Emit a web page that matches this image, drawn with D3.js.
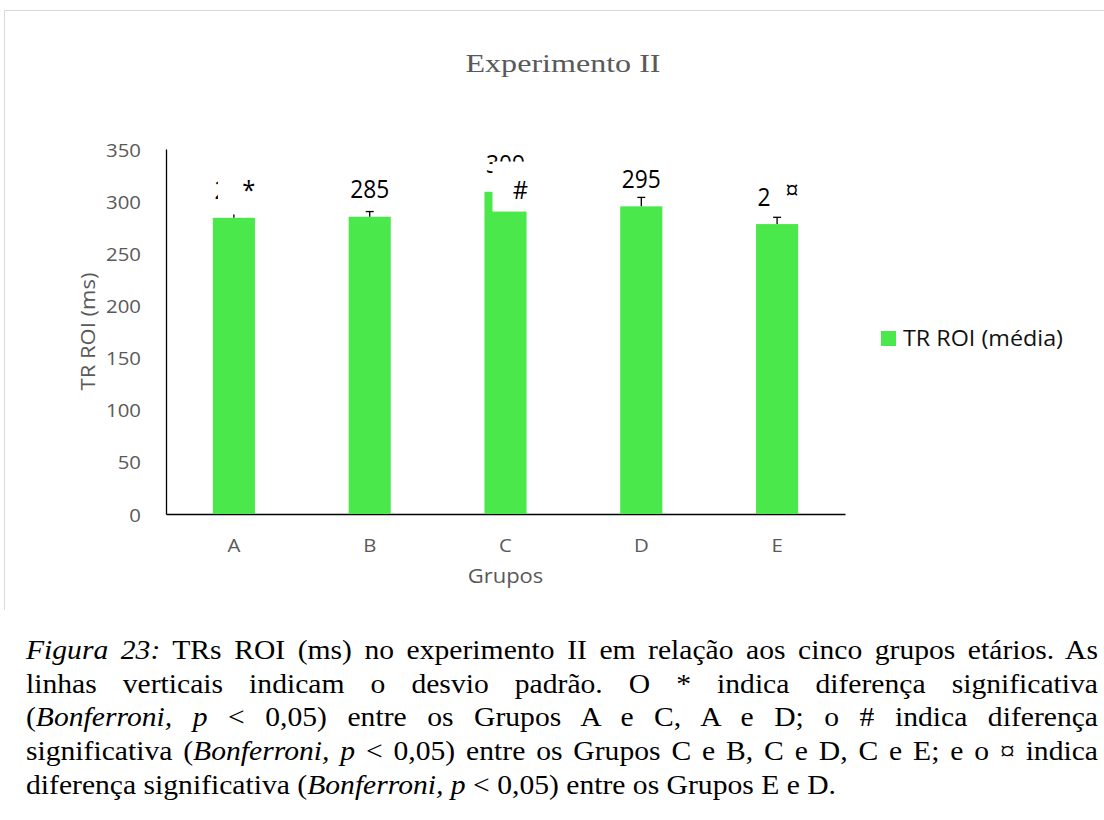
<!DOCTYPE html>
<html><head><meta charset="utf-8">
<script src="https://cdn.jsdelivr.net/npm/d3@7"></script>
<style>
html,body{margin:0;padding:0;background:#fff;}
#wrap{position:relative;width:1104px;height:820px;overflow:hidden;background:#fff;}
svg{position:absolute;left:0;top:0;}
#caption{position:absolute;left:26px;top:634px;font-family:"Liberation Serif","Times New Roman",serif;font-size:26.5px;color:#000;transform-origin:0 0;}
#caption .ln{white-space:nowrap;line-height:33.7px;height:33.7px;}
</style></head><body><div id="wrap"></div>
<script>
// ---------- data ----------
const categories = ["A", "B", "C", "D", "E"];
const means = [284, 285, 309, 295, 278];
const sds = [13, 5, 8, 8.6, 6.5];
const valueLabels = ["284", "285", "309", "295", "278"];
const sigMarks = ["*", "", "#", "", "¤"];
const yTicks = [0, 50, 100, 150, 200, 250, 300, 350];
const seriesName = "TR ROI (média)";
const chartTitle = "Experimento II";
const xTitle = "Grupos";
const yTitle = "TR ROI (ms)";
const captionLines = [
  [{t: "Figura 23:", i: true}, {t: " TRs ROI (ms) no experimento II em relação aos cinco grupos etários. As"}],
  [{t: "linhas verticais indicam o desvio padrão. O * indica diferença significativa"}],
  [{t: "("}, {t: "Bonferroni, p", i: true}, {t: " < 0,05) entre os Grupos A e C, A e D; o # indica diferença"}],
  [{t: "significativa ("}, {t: "Bonferroni, p", i: true}, {t: " < 0,05) entre os Grupos C e B, C e D, C e E; e o ¤ indica"}],
  [{t: "diferença significativa ("}, {t: "Bonferroni, p", i: true}, {t: " < 0,05) entre os Grupos E e D."}]
];

// ---------- layout / style ----------
const W = 1104, H = 820;
const plot = {left: 166, right: 845, top: 149, bottom: 514};
const green = "#4be84b";
const gray = "#595959";
const sans = "'Open Sans','Noto Sans',sans-serif";
const serif = "'Liberation Serif','Times New Roman',serif";
// masks (white text boxes of the significance markers), relative to bar centre / value scale
const maskLayout = {
  "A": {dx0: -16, dx1: 40, vTop: 332, vBottom: 287.3},
  "C": {dx0: -13, dx1: 40, vTop: 338, vBottom: 290},
  "E": {dx0: -7,  dx1: 40, vTop: 332, vBottom: 286.2}
};

const wrap = d3.select("#wrap");
const svg = wrap.append("svg").attr("width", W).attr("height", H);

// chart frame (top + left edges visible)
svg.append("line").attr("x1", 4.5).attr("x2", W).attr("y1", 10.5).attr("y2", 10.5)
  .attr("stroke", "#d9d9d9").attr("stroke-width", 1);
svg.append("line").attr("x1", 4.5).attr("x2", 4.5).attr("y1", 10.5).attr("y2", 610)
  .attr("stroke", "#d9d9d9").attr("stroke-width", 1);

function stext(parent, txt, x, y, opts) {
  const o = Object.assign({size: 18, sx: 1, anchor: "start", fill: "#000", family: sans, rotate: 0}, opts || {});
  return parent.append("text")
    .attr("transform", `translate(${x},${y}) rotate(${o.rotate}) scale(${o.sx},1)`)
    .attr("text-anchor", o.anchor)
    .attr("font-family", o.family)
    .attr("font-size", o.size)
    .attr("fill", o.fill)
    .text(txt);
}

// title
svg.append("text")
  .attr("x", 563).attr("y", 72)
  .attr("text-anchor", "middle")
  .attr("font-family", serif).attr("font-size", 25).attr("fill", gray)
  .attr("textLength", 195).attr("lengthAdjust", "spacingAndGlyphs")
  .text(chartTitle);

// scales
const x = d3.scaleBand().domain(categories).range([plot.left, plot.right])
  .paddingInner(0.69).paddingOuter(0.345);
const y = d3.scaleLinear().domain([0, 350]).range([plot.bottom, plot.top]);

// y axis
const gy = svg.append("g").attr("transform", `translate(${plot.left},0)`)
  .call(d3.axisLeft(y).tickValues(yTicks).tickSize(0).tickSizeOuter(0).tickPadding(25));
gy.select(".domain").attr("stroke", "#000").attr("stroke-width", 1.3);
gy.selectAll(".tick text").each(function(d) {
  d3.select(this).attr("x", null).attr("dy", null)
    .attr("transform", `translate(-25,0) scale(1.1,1)`)
    .attr("dominant-baseline", "central")
    .attr("font-family", sans).attr("font-size", 18.5).attr("fill", gray);
});

// x axis
const gx = svg.append("g").attr("transform", `translate(0,${plot.bottom})`)
  .call(d3.axisBottom(x).tickSize(0).tickSizeOuter(0));
gx.select(".domain").attr("stroke", "#000").attr("stroke-width", 1.3);
gx.selectAll(".tick text").each(function() {
  d3.select(this).attr("y", null).attr("dy", null)
    .attr("transform", `translate(0,31) scale(1.1,1)`)
    .attr("dominant-baseline", "central")
    .attr("font-family", sans).attr("font-size", 18.5).attr("fill", gray);
});

// axis titles
stext(svg, xTitle, (plot.left + plot.right) / 2, 583, {size: 20, sx: 1.1, anchor: "middle", fill: gray});
stext(svg, yTitle, 95, (plot.top + plot.bottom) / 2, {size: 20, sx: 1.1, anchor: "middle", fill: gray, rotate: -90});

// bars
const data = categories.map((c, i) => ({c, v: means[i], sd: sds[i], lab: valueLabels[i], mark: sigMarks[i]}));
svg.append("g").selectAll("rect").data(data).join("rect")
  .attr("x", d => x(d.c)).attr("width", x.bandwidth())
  .attr("y", d => y(d.v)).attr("height", d => y(0) - y(d.v))
  .attr("fill", green);

// error bars (plus direction)
const eg = svg.append("g").attr("stroke", "#000").attr("stroke-width", 1.3);
data.forEach(d => {
  const cx = x(d.c) + x.bandwidth() / 2;
  eg.append("line").attr("x1", cx).attr("x2", cx).attr("y1", y(d.v)).attr("y2", y(d.v + d.sd));
  eg.append("line").attr("x1", cx - 4).attr("x2", cx + 4).attr("y1", y(d.v + d.sd)).attr("y2", y(d.v + d.sd));
});

// value labels
const lg = svg.append("g");
data.forEach(d => {
  const cx = x(d.c) + x.bandwidth() / 2;
  stext(lg, d.lab, cx, y(d.v) - 18.5, {size: 25, sx: 0.91, anchor: "middle", fill: "#000"});
});

// significance marker text boxes (white, overlapping labels)
const mg = svg.append("g");
data.forEach(d => {
  const m = maskLayout[d.c];
  const cx = x(d.c) + x.bandwidth() / 2;
  if (m) {
    mg.append("rect").attr("x", cx + m.dx0).attr("width", m.dx1 - m.dx0)
      .attr("y", y(m.vTop)).attr("height", y(m.vBottom) - y(m.vTop)).attr("fill", "#fff");
  }
  if (d.mark) stext(mg, d.mark, cx + 15, 199, {size: 25, sx: 0.95, anchor: "middle", fill: "#000"});
});

// legend
svg.append("rect").attr("x", 881).attr("y", 331).attr("width", 15).attr("height", 15).attr("fill", green);
svg.append("text").attr("x", 903).attr("y", 346)
  .attr("font-family", sans).attr("font-size", 21.5).attr("fill", "#111")
  .attr("textLength", 160).attr("lengthAdjust", "spacingAndGlyphs")
  .text(seriesName);

// caption (justified)
const cap = wrap.append("div").attr("id", "caption");
captionLines.forEach(segs => {
  const sp = cap.append("div").attr("class", "ln").append("span").style("display", "inline-block");
  segs.forEach(s => sp.append("span").style("font-style", s.i ? "italic" : "normal").text(s.t));
});
const spans = cap.selectAll(".ln > span").nodes();
const lastW = spans[spans.length - 1].getBoundingClientRect().width;
const capSx = 810 / lastW;
const fullW = 1072 / capSx;
spans.forEach((n, i) => {
  if (i < spans.length - 1) {
    const w = n.getBoundingClientRect().width;
    const nsp = (n.textContent.match(/ /g) || []).length;
    n.style.wordSpacing = ((fullW - w) / nsp) + "px";
  }
});
cap.style("transform", `scaleX(${capSx})`);
</script>
</body></html>
